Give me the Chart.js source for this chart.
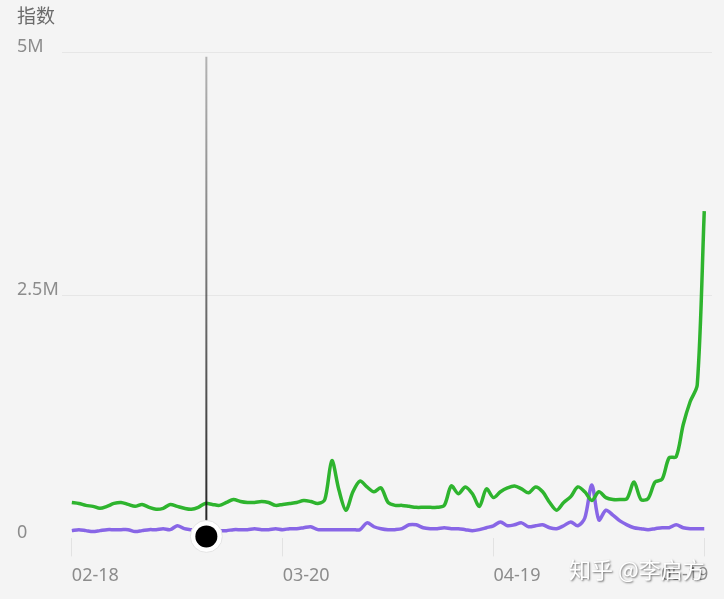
<!DOCTYPE html>
<html>
<head>
<meta charset="utf-8">
<script src="https://cdn.jsdelivr.net/npm/chart.js@4.4.1/dist/chart.umd.min.js"></script>
<style>
  html, body { margin: 0; padding: 0; background: #f4f4f4; }
  #wrap { width: 724px; height: 599px; }
</style>
</head>
<body>
<div id="wrap"><canvas id="indexChart" width="724" height="599"></canvas></div>
<script>
// daily dates 02-18 .. 05-19
const startDate = new Date(2019, 1, 18);
const dates = [];
for (let i = 0; i < 91; i++) {
  const d = new Date(startDate.getFullYear(), startDate.getMonth(), startDate.getDate() + i);
  dates.push(String(d.getMonth() + 1).padStart(2, '0') + '-' + String(d.getDate()).padStart(2, '0'));
}

const tickIndexes = [0, 30, 60, 90];
const yTicks = [0, 2.5, 5];

// values in millions
const greenSeries = [
  0.37, 0.36, 0.34, 0.33, 0.31, 0.33, 0.36, 0.37, 0.35, 0.33,
  0.35, 0.32, 0.30, 0.31, 0.35, 0.33, 0.31, 0.30, 0.32, 0.36,
  0.35, 0.34, 0.37, 0.40, 0.38, 0.37, 0.37, 0.38, 0.37, 0.34,
  0.35, 0.36, 0.37, 0.39, 0.38, 0.36, 0.40, 0.80, 0.50, 0.29,
  0.48, 0.59, 0.53, 0.48, 0.52, 0.37, 0.34, 0.34, 0.33, 0.32,
  0.32, 0.32, 0.32, 0.34, 0.54, 0.46, 0.53, 0.46, 0.33, 0.51,
  0.42, 0.48, 0.52, 0.54, 0.51, 0.47, 0.53, 0.48, 0.37, 0.29,
  0.37, 0.43, 0.53, 0.48, 0.39, 0.48, 0.42, 0.40, 0.40, 0.41,
  0.58, 0.40, 0.41, 0.58, 0.61, 0.83, 0.84, 1.17, 1.41, 1.58,
  3.37
];

const purpleSeries = [
  0.08, 0.09, 0.08, 0.07, 0.08, 0.09, 0.09, 0.09, 0.09, 0.07,
  0.08, 0.09, 0.09, 0.10, 0.09, 0.13, 0.10, 0.09, 0.08, 0.08,
  0.08, 0.08, 0.08, 0.09, 0.09, 0.09, 0.10, 0.09, 0.09, 0.10,
  0.09, 0.10, 0.10, 0.11, 0.12, 0.09, 0.09, 0.09, 0.09, 0.09,
  0.09, 0.09, 0.16, 0.12, 0.10, 0.09, 0.09, 0.10, 0.14, 0.14,
  0.11, 0.10, 0.10, 0.11, 0.10, 0.10, 0.09, 0.08, 0.09, 0.11,
  0.13, 0.17, 0.13, 0.14, 0.16, 0.12, 0.13, 0.14, 0.11, 0.10,
  0.13, 0.17, 0.13, 0.21, 0.55, 0.19, 0.29, 0.24, 0.18, 0.14,
  0.11, 0.10, 0.09, 0.10, 0.11, 0.11, 0.14, 0.11, 0.10, 0.10,
  0.10
];

const hoverIndex = 19;

function toPoints(values) {
  return values.map((v, i) => ({ x: i, y: v }));
}

const backgroundPlugin = {
  id: 'bg',
  beforeDraw(chart) {
    const ctx = chart.ctx;
    ctx.save();
    ctx.fillStyle = '#f4f4f4';
    ctx.fillRect(0, 0, chart.width, chart.height);
    ctx.restore();
  }
};

const cursorPlugin = {
  id: 'cursor',
  afterDatasetsDraw(chart) {
    const ctx = chart.ctx;
    const area = chart.chartArea;
    const x = chart.scales.x.getPixelForValue(hoverIndex) + 1;
    const bottom = area.bottom - 2;
    ctx.save();
    const grad = ctx.createLinearGradient(0, area.top, 0, bottom);
    grad.addColorStop(0, 'rgba(60,60,60,0.35)');
    grad.addColorStop(1, 'rgba(20,20,20,0.95)');
    ctx.strokeStyle = grad;
    ctx.lineWidth = 2;
    ctx.beginPath();
    ctx.moveTo(x, area.top + 4);
    ctx.lineTo(x, bottom);
    ctx.stroke();

    ctx.beginPath();
    ctx.arc(x, bottom, 16, 0, Math.PI * 2);
    ctx.fillStyle = '#ffffff';
    ctx.fill();
    ctx.strokeStyle = '#e4e4e4';
    ctx.lineWidth = 1;
    ctx.stroke();

    ctx.beginPath();
    ctx.arc(x, bottom, 11, 0, Math.PI * 2);
    ctx.fillStyle = '#000000';
    ctx.fill();
    ctx.restore();
  }
};

const labelPlugin = {
  id: 'lastLabel',
  afterDraw(chart) {
    const ctx = chart.ctx;
    const xScale = chart.scales.x;
    const last = tickIndexes[tickIndexes.length - 1];
    const x = xScale.getPixelForValue(last);
    ctx.save();
    ctx.font = '18px "Noto Sans", sans-serif';
    ctx.fillStyle = '#8c8c8c';
    ctx.textAlign = 'right';
    ctx.textBaseline = 'middle';
    ctx.fillText(dates[last], x + 4, 575);

    // watermark
    ctx.font = '22px "Noto Sans CJK SC", sans-serif';
    ctx.textAlign = 'left';
    ctx.shadowColor = 'rgba(0,0,0,0.55)';
    ctx.shadowBlur = 2;
    ctx.shadowOffsetX = 1;
    ctx.shadowOffsetY = 1;
    ctx.fillStyle = '#ffffff';
    ctx.fillText('知乎 @李启方', 569, 570);
    ctx.restore();
  }
};

const ctx = document.getElementById('indexChart').getContext('2d');

new Chart(ctx, {
  type: 'line',
  data: {
    datasets: [
      {
        label: 'green',
        data: toPoints(greenSeries),
        borderColor: '#2eb42e',
        borderWidth: 3.5,
        pointRadius: 0,
        tension: 0.3,
        fill: false
      },
      {
        label: 'purple',
        data: toPoints(purpleSeries),
        borderColor: '#8866e6',
        borderWidth: 3.5,
        pointRadius: 0,
        tension: 0.3,
        fill: false
      }
    ]
  },
  options: {
    responsive: false,
    animation: false,
    layout: { padding: { top: 4, left: 17, right: 12, bottom: 3 } },
    plugins: {
      legend: { display: false },
      tooltip: { enabled: false },
      title: {
        display: true,
        text: '指数',
        align: 'start',
        color: '#6b6b6b',
        font: { family: '"Noto Sans CJK SC", sans-serif', size: 19, weight: 'normal' },
        padding: { top: 0, bottom: 26 }
      }
    },
    scales: {
      x: {
        type: 'linear',
        min: -1.4,
        max: 91.1,
        afterBuildTicks(scale) {
          scale.ticks = tickIndexes.map(v => ({ value: v }));
        },
        grid: {
          drawOnChartArea: false,
          drawTicks: true,
          tickLength: 18,
          tickColor: '#e2e2e2'
        },
        border: { display: false },
        ticks: {
          autoSkip: false,
          maxRotation: 0,
          align: 'start',
          padding: 9,
          color: '#8c8c8c',
          font: { family: '"Noto Sans", sans-serif', size: 18 },
          // last label is drawn right-aligned by labelPlugin
          callback: value => value === tickIndexes[tickIndexes.length - 1] ? '' : dates[value]
        }
      },
      y: {
        min: 0,
        max: 5,
        afterBuildTicks(scale) {
          scale.ticks = yTicks.map(v => ({ value: v }));
        },
        afterFit(scale) {
          scale.width = 45;
        },
        grid: {
          drawTicks: false,
          color: c => c.tick && c.tick.value === 0 ? 'rgba(0,0,0,0)' : '#e6e6e6',
          lineWidth: 1
        },
        border: { display: false },
        ticks: {
          crossAlign: 'far',
          padding: 0,
          labelOffset: -6,
          color: '#8c8c8c',
          font: { family: '"Noto Sans", sans-serif', size: 18 },
          callback: v => v === 0 ? '0' : v + 'M'
        }
      }
    }
  },
  plugins: [backgroundPlugin, cursorPlugin, labelPlugin]
});
</script>
</body>
</html>
